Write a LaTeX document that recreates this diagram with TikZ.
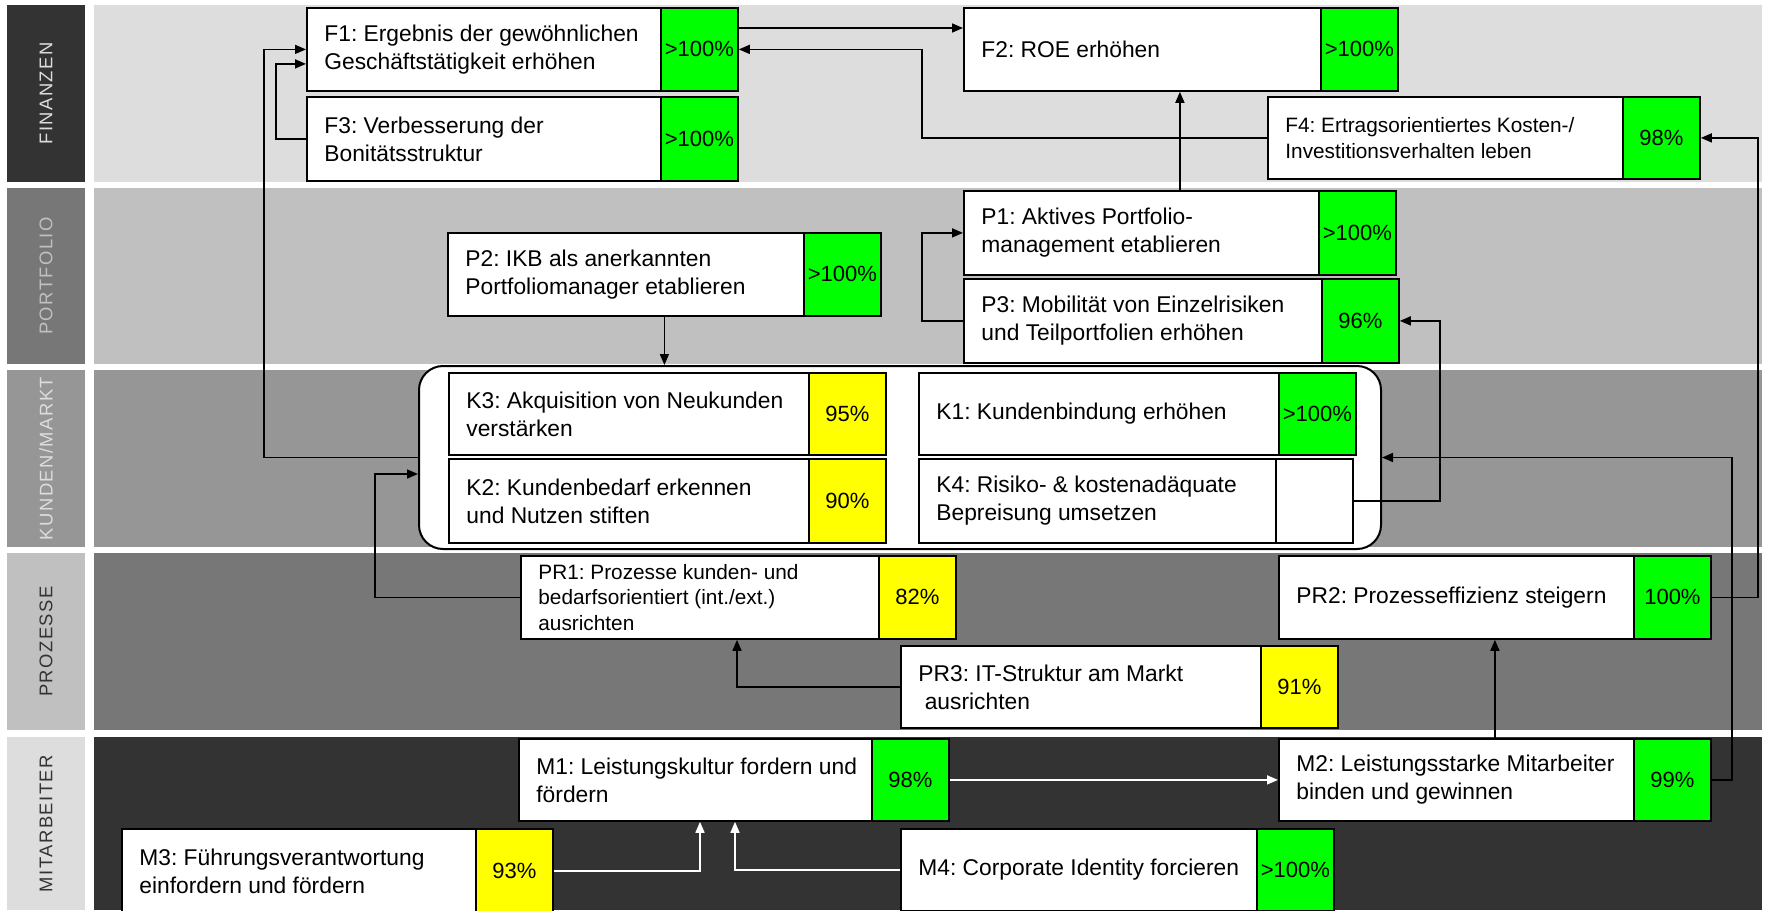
\documentclass[tikz,border=0pt]{standalone}
\usepackage{fontspec}
\setmainfont{Liberation Sans}
\newfontfamily\lanefont[LetterSpace=8]{Liberation Sans}
\usetikzlibrary{calc,arrows.meta}
\frenchspacing
\definecolor{gA}{HTML}{333333}
\definecolor{gB}{HTML}{777777}
\definecolor{gC}{HTML}{969696}
\definecolor{gD}{HTML}{C0C0C0}
\definecolor{gE}{HTML}{DDDDDD}
\definecolor{okgreen}{HTML}{00FF00}
\definecolor{warnyellow}{HTML}{FFFF00}
\newcommand\obj[9][]{%
  \pgfmathsetmacro\objw{(#5-#3)*0.5}%
  \pgfmathsetmacro\objh{(#6-#4)*0.5}%
  \node[objbox, anchor=north west, minimum width=\objw pt, minimum height=\objh pt] (#2) at (#3,#4) {};%
  \node[pctbox, fill=#9, anchor=north west, minimum width=38.5pt, minimum height=\objh pt] (#2p) at (#5,#4) {#8};%
  \node[objtext, anchor=west, #1] (#2t) at ($(#2.west)+(18,0)$) {#7};%
}
\begin{document}
\begin{tikzpicture}[x=0.5pt,y=-0.5pt,
  objbox/.style={draw=black, line width=0.9pt, fill=white, inner sep=0pt},
  pctbox/.style={draw=black, line width=0.9pt, inner sep=0pt, font=\fontsize{11}{13}\selectfont},
  objtext/.style={inner sep=0pt, align=left, font=\fontsize{11.4}{14}\selectfont},
  smalltext/.style={font=\fontsize{10.4}{12.8}\selectfont},
  grp/.style={draw=black, line width=1pt, fill=white, rounded corners=12pt, inner sep=0pt},
  lanelab/.style={rotate=90, inner sep=0pt, font=\lanefont\fontsize{9.2}{11}\selectfont},
  arr/.style={line width=0.8pt, -{Triangle[length=5.5pt,width=4.5pt]}},
  warr/.style={line width=0.8pt, draw=white, -{Triangle[length=5.5pt,width=4.5pt,fill=white]}}]
\useasboundingbox (0,0) rectangle (1766,910);
\fill[white] (0,0) rectangle (1766,910);
% lanes
\fill[gA] (7,5) rectangle (85,182);
\fill[gE] (94,5) rectangle (1762,182);
\fill[gB] (7,188) rectangle (85,364);
\fill[gD] (94,188) rectangle (1762,364);
\fill[gC] (7,370) rectangle (85,547);
\fill[gC] (94,370) rectangle (1762,547);
\fill[gD] (7,553) rectangle (85,730);
\fill[gB] (94,553) rectangle (1762,730);
\fill[gE] (7,737) rectangle (85,910);
\fill[gA] (94,737) rectangle (1762,910);
\node[lanelab, text=gE] (LF) at (46,93.5) {FINANZEN};
\node[lanelab, text=gD] (LP) at (46,276) {PORTFOLIO};
\node[lanelab, text=gE] (LK) at (46,458.5) {KUNDEN/MARKT};
\node[lanelab, text=gA] (LR) at (46,641.5) {PROZESSE};
\node[lanelab, text=gA] (LM) at (46,823.5) {MITARBEITER};
% customer group
\node[grp, anchor=north west, minimum width=481pt, minimum height=91.5pt] (Kgrp) at (418,365) {};
% objectives
\obj{F1}{306}{7}{660}{90}{F1: Ergebnis der gewöhnlichen\\Geschäftstätigkeit erhöhen}{>100\%}{okgreen}
\obj{F3}{306}{96}{660}{180}{F3: Verbesserung der\\Bonitätsstruktur}{>100\%}{okgreen}
\obj{F2}{963}{7}{1320}{90}{F2: ROE erhöhen}{>100\%}{okgreen}
\obj[smalltext]{F4}{1267}{96}{1622}{178}{F4: Ertragsorientiertes Kosten-/\\Investitionsverhalten leben}{98\%}{okgreen}
\obj{P1}{963}{190}{1318}{274}{P1: Aktives Portfolio-\\management etablieren}{>100\%}{okgreen}
\obj{P3}{963}{278}{1321}{362}{P3: Mobilität von Einzelrisiken\\und Teilportfolien erhöhen}{96\%}{okgreen}
\obj{P2}{447}{232}{803}{315}{P2: IKB als anerkannten\\Portfoliomanager etablieren}{>100\%}{okgreen}
\obj{K3}{448}{372}{808}{454}{K3: Akquisition von Neukunden\\verstärken}{95\%}{warnyellow}
\obj{K2}{448}{458}{808}{542}{K2: Kundenbedarf erkennen\\und Nutzen stiften}{90\%}{warnyellow}
\obj{K1}{918}{372}{1278}{454}{K1: Kundenbindung erhöhen}{>100\%}{okgreen}
\obj{K4}{918}{458}{1275}{542}{K4: Risiko- \& kostenadäquate\\Bepreisung umsetzen}{}{white}
\obj[smalltext]{PR1}{520}{555}{878}{638}{PR1: Prozesse kunden- und\\bedarfsorientiert (int./ext.)\\ausrichten}{82\%}{warnyellow}
\obj{PR2}{1278}{555}{1633}{638}{PR2: Prozesseffizienz steigern}{100\%}{okgreen}
\obj{PR3}{900}{645}{1260}{727}{PR3: IT-Struktur am Markt\\\hspace*{0.28em}ausrichten}{91\%}{warnyellow}
\obj{M1}{518}{738}{871}{820}{M1: Leistungskultur fordern und\\fördern}{98\%}{okgreen}
\obj{M2}{1278}{738}{1633}{820}{M2: Leistungsstarke Mitarbeiter\\binden und gewinnen}{99\%}{okgreen}
\obj{M3}{121}{828}{475}{912}{M3: Führungsverantwortung\\einfordern und fördern}{93\%}{warnyellow}
\obj{M4}{900}{828}{1256}{910}{M4: Corporate Identity forcieren}{>100\%}{okgreen}
% connectors
\draw[arr] (Kgrp.west) -- ++(-154,0) |- (F1.west);
\draw[arr] (F3.west) -- ++(-30,0) |- ($(F1.west)+(0,14.5)$);
\draw[arr] ($(F1p.north east)+(0,21)$) -- ($(F2.north west)+(0,21)$);
\draw[arr] (F4.west) -- ++(-345,0) |- (F1p.east);
\draw[arr] ($(P1.north west)!0.5!(P1p.north east)$) coordinate (a) -- (a |- F2.south);
\draw[arr] (P3.west) -- ++(-41,0) |- (P1.west);
\draw[arr] (K4p.east) -- ++(86,0) |- (P3p.east);
\draw[arr] ($(P2.south west)!0.5!(P2p.south east)$) coordinate (b) -- (b |- Kgrp.north);
\draw[arr] (PR1.west) -- ++(-145,0) |- ($(Kgrp.west)+(0,16.5)$);
\draw[arr] (PR3.west) -| ($(PR1.south west)+(217,0)$);
\draw[arr] (PR2p.east) -- ++(46,0) |- (F4p.east);
\draw[arr] (M2p.east) -- ++(20,0) |- (Kgrp.east);
\draw[arr] ($(M2.north west)!0.5!(M2p.north east)$) coordinate (c) -- (c |- PR2.south);
\draw[warr] (M1p.east) -- (M2.west);
\draw[warr] (M3p.east) -| ($(M1.south west)+(182,0)$);
\draw[warr] (M4.west) -| ($(M1.south west)+(217,0)$);
\end{tikzpicture}
\end{document}
